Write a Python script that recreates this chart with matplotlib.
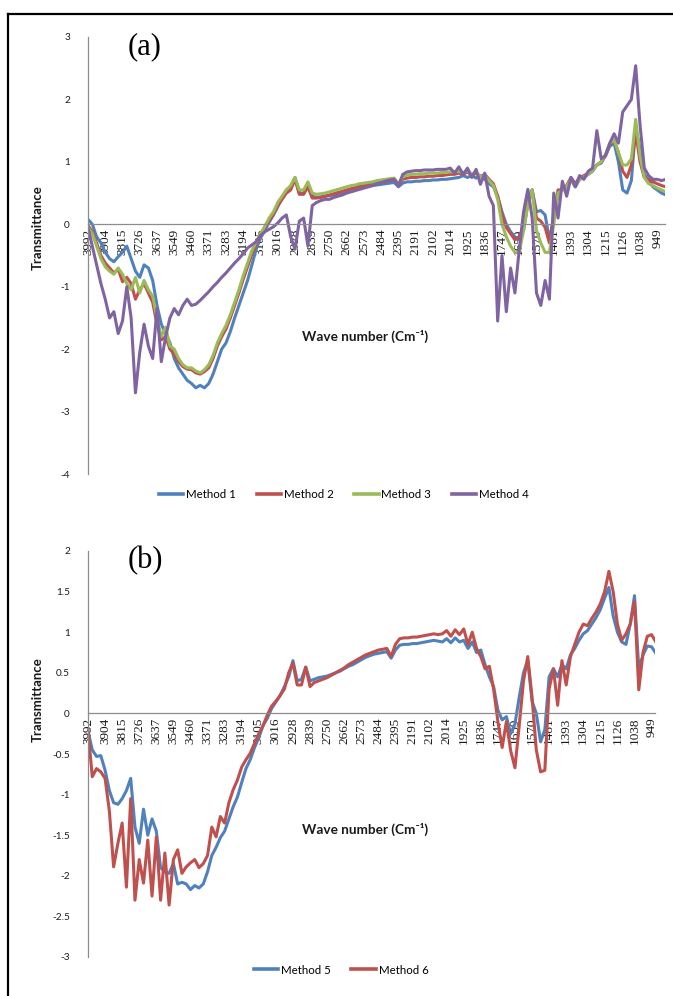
import numpy as np
import matplotlib
matplotlib.use("Agg")
import matplotlib.pyplot as plt
from matplotlib.lines import Line2D

# ---------------- data ----------------
wavenumber_labels = ["3992", "3904", "3815", "3726", "3637", "3549", "3460", "3371",
                     "3283", "3194", "3105", "3016", "2928", "2839", "2750", "2662",
                     "2573", "2484", "2395", "2191", "2102", "2014", "1925", "1836",
                     "1747", "1659", "1570", "1481", "1393", "1304", "1215", "1126",
                     "1038", "949"]
samples_per_label = 4   # values read at quarter steps between category labels

method1 = [0.08, 0.0, -0.2, -0.3, -0.45, -0.55, -0.6, -0.52, -0.45, -0.35, -0.55, -0.75,
           -0.85, -0.65, -0.7, -0.9, -1.3, -1.6, -1.75, -1.9, -2.15, -2.3, -2.4, -2.5,
           -2.55, -2.62, -2.58, -2.62, -2.55, -2.4, -2.2, -2.0, -1.9, -1.72, -1.5, -1.3,
           -1.1, -0.9, -0.65, -0.4, -0.22, -0.1, 0.03, 0.15, 0.28, 0.42, 0.55, 0.6,
           0.75, 0.5, 0.5, 0.62, 0.45, 0.43, 0.44, 0.45, 0.46, 0.47, 0.48, 0.5,
           0.52, 0.54, 0.56, 0.58, 0.6, 0.61, 0.62, 0.63, 0.64, 0.65, 0.66, 0.67,
           0.6, 0.66, 0.68, 0.68, 0.69, 0.69, 0.7, 0.7, 0.71, 0.71, 0.72, 0.72,
           0.73, 0.74, 0.75, 0.78, 0.75, 0.78, 0.74, 0.78, 0.72, 0.65, 0.6, 0.45,
           0.2, 0.0, -0.12, -0.2, -0.25, -0.1, 0.35, 0.55, 0.2, 0.22, 0.15, -0.25,
           0.1, 0.5, 0.55, 0.6, 0.72, 0.6, 0.72, 0.75, 0.8, 0.85, 0.95, 0.98,
           1.1, 1.25, 1.3, 1.0, 0.55, 0.5, 0.7, 1.55, 1.2, 0.8, 0.7, 0.6,
           0.55, 0.5, 0.47]
method2 = [-0.02, -0.12, -0.3, -0.5, -0.62, -0.7, -0.78, -0.72, -0.92, -0.85, -0.95, -1.2,
           -1.05, -0.95, -1.1, -1.25, -1.6, -1.85, -1.8, -2.0, -2.08, -2.2, -2.28, -2.32,
           -2.33, -2.38, -2.4, -2.36, -2.3, -2.15, -1.95, -1.8, -1.68, -1.5, -1.3, -1.1,
           -0.88, -0.68, -0.48, -0.32, -0.18, -0.06, 0.06, 0.16, 0.3, 0.4, 0.5, 0.55,
           0.72, 0.48, 0.48, 0.6, 0.42, 0.42, 0.43, 0.45, 0.47, 0.49, 0.51, 0.53,
           0.55, 0.57, 0.59, 0.61, 0.62, 0.64, 0.65, 0.66, 0.67, 0.68, 0.7, 0.71,
           0.63, 0.72, 0.74, 0.75, 0.75, 0.76, 0.76, 0.77, 0.77, 0.78, 0.78, 0.79,
           0.8, 0.8, 0.82, 0.8, 0.84, 0.78, 0.82, 0.76, 0.8, 0.72, 0.65, 0.45,
           0.15, -0.05, -0.15, -0.25, -0.2, -0.05, 0.35, 0.55, 0.1, 0.05, -0.05, -0.3,
           0.15, 0.55, 0.55, 0.62, 0.75, 0.65, 0.75, 0.78, 0.82, 0.88, 0.95, 1.0,
           1.1, 1.28, 1.35, 1.15, 0.85, 0.75, 0.95, 1.48, 1.0, 0.75, 0.72, 0.68,
           0.65, 0.62, 0.6]
method3 = [-0.05, -0.15, -0.35, -0.55, -0.68, -0.75, -0.8, -0.7, -0.8, -0.95, -1.05, -0.85,
           -1.1, -0.9, -1.05, -1.15, -1.5, -1.8, -1.65, -1.95, -2.0, -2.15, -2.25, -2.3,
           -2.3, -2.35, -2.38, -2.33, -2.25, -2.1, -1.9, -1.75, -1.62, -1.45, -1.25, -1.05,
           -0.82, -0.62, -0.42, -0.28, -0.15, -0.03, 0.1, 0.2, 0.35, 0.45, 0.55, 0.62,
           0.75, 0.55, 0.55, 0.68, 0.5, 0.48, 0.49, 0.5, 0.52, 0.54, 0.56, 0.58,
           0.6, 0.62, 0.63, 0.65, 0.66, 0.67, 0.68, 0.7, 0.71, 0.72, 0.73, 0.74,
           0.65, 0.76, 0.79, 0.8, 0.8, 0.81, 0.81, 0.82, 0.82, 0.82, 0.83, 0.83,
           0.84, 0.84, 0.85, 0.82, 0.86, 0.8, 0.84, 0.76, 0.78, 0.7, 0.62, 0.4,
           0.0, -0.2, -0.35, -0.45, -0.45, -0.1, 0.3, 0.55, -0.1, -0.3, -0.45, -0.45,
           0.0, 0.5, 0.55, 0.6, 0.72, 0.62, 0.72, 0.76, 0.8, 0.86, 0.95, 1.0,
           1.12, 1.3, 1.35, 1.15, 0.95, 0.95, 1.05, 1.68, 1.1, 0.75, 0.65, 0.62,
           0.58, 0.55, 0.52]
method4 = [-0.05, -0.35, -0.65, -0.95, -1.2, -1.5, -1.4, -1.75, -1.55, -1.0, -1.5, -2.7,
           -2.05, -1.6, -1.95, -2.15, -1.35, -2.2, -1.8, -1.5, -1.35, -1.45, -1.3, -1.2,
           -1.3, -1.28, -1.22, -1.15, -1.08, -1.0, -0.93, -0.85, -0.78, -0.7, -0.62, -0.55,
           -0.47, -0.38, -0.33, -0.28, -0.18, -0.12, -0.08, -0.04, 0.02, 0.1, 0.15, -0.2,
           -0.4, 0.05, 0.1, -0.35, 0.3, 0.35, 0.38, 0.4, 0.4, 0.43, 0.45, 0.47,
           0.5, 0.52, 0.54, 0.56, 0.58, 0.6, 0.62, 0.65, 0.67, 0.69, 0.71, 0.72,
           0.62, 0.8, 0.84, 0.85, 0.86, 0.86, 0.87, 0.87, 0.87, 0.88, 0.88, 0.88,
           0.9, 0.82, 0.92, 0.8, 0.9, 0.75, 0.88, 0.64, 0.82, 0.45, 0.3, -1.55,
           -0.5, -1.4, -0.7, -1.1, -0.4, 0.2, 0.56, 0.1, -1.1, -1.3, -0.9, -1.2,
           0.5, 0.1, 0.69, 0.45, 0.75, 0.6, 0.78, 0.72, 0.85, 0.9, 1.5, 1.05,
           1.1, 1.3, 1.45, 1.3, 1.8, 1.9, 2.0, 2.54, 1.6, 0.9, 0.78, 0.72,
           0.72, 0.7, 0.72]

method5 = [-0.22, -0.45, -0.53, -0.52, -0.7, -0.95, -1.1, -1.12, -1.05, -0.95, -0.8, -1.4,
           -1.6, -1.18, -1.5, -1.3, -1.45, -1.9, -1.95, -1.97, -1.85, -2.1, -2.08, -2.1,
           -2.17, -2.12, -2.15, -2.1, -1.95, -1.75, -1.65, -1.53, -1.45, -1.3, -1.15, -1.03,
           -0.85, -0.68, -0.57, -0.42, -0.3, -0.15, -0.06, 0.06, 0.14, 0.22, 0.33, 0.45,
           0.65, 0.4, 0.42, 0.57, 0.4, 0.42, 0.44, 0.45, 0.46, 0.48, 0.5, 0.52,
           0.55, 0.58, 0.6, 0.63, 0.66, 0.69, 0.71, 0.73, 0.74, 0.75, 0.76, 0.68,
           0.78, 0.84, 0.85, 0.85, 0.86, 0.86, 0.87, 0.88, 0.89, 0.9, 0.89, 0.88,
           0.92, 0.87, 0.93, 0.88, 0.9, 0.8, 0.88, 0.75, 0.78, 0.6, 0.45, 0.33,
           0.04, -0.08, -0.04, -0.25, -0.13, 0.2, 0.5, 0.65, 0.15, 0.0, -0.35, -0.2,
           0.45, 0.55, 0.45, 0.6, 0.55, 0.72, 0.8, 0.9, 0.98, 1.02, 1.1, 1.18,
           1.28, 1.42, 1.55, 1.2, 1.0, 0.88, 0.85, 1.1, 1.45, 0.55, 0.72, 0.83,
           0.82, 0.74]
method6 = [-0.2, -0.78, -0.68, -0.72, -0.8, -1.2, -1.89, -1.6, -1.35, -2.14, -1.05, -2.3,
           -1.8, -2.09, -1.56, -2.25, -1.52, -2.3, -1.72, -2.36, -1.8, -1.68, -1.97, -1.89,
           -1.84, -1.8, -1.9, -1.85, -1.75, -1.4, -1.52, -1.27, -1.35, -1.1, -0.94, -0.82,
           -0.66, -0.57, -0.49, -0.37, -0.25, -0.15, -0.02, 0.09, 0.15, 0.22, 0.3, 0.5,
           0.62, 0.35, 0.35, 0.57, 0.33, 0.38, 0.4, 0.42, 0.44, 0.47, 0.5, 0.53,
           0.56, 0.6, 0.63, 0.66, 0.69, 0.72, 0.74, 0.76, 0.78, 0.79, 0.8, 0.7,
           0.85, 0.92, 0.93, 0.93, 0.94, 0.94, 0.95, 0.96, 0.97, 0.98, 0.97, 0.98,
           1.02, 0.95, 1.03, 0.97, 1.04, 0.85, 1.0, 0.8, 0.7, 0.55, 0.58, 0.3,
           -0.1, -0.42, -0.1, -0.46, -0.67, -0.15, 0.4, 0.7, 0.2, -0.45, -0.72, -0.7,
           0.3, 0.55, 0.1, 0.65, 0.35, 0.7, 0.85, 1.0, 1.1, 1.08, 1.17, 1.25,
           1.35, 1.5, 1.75, 1.5, 1.1, 0.9, 0.98, 1.1, 1.38, 0.29, 0.75, 0.95,
           0.97, 0.88]

top_series = [("Method 1", method1), ("Method 2", method2),
              ("Method 3", method3), ("Method 4", method4)]
bottom_series = [("Method 5", method5), ("Method 6", method6)]

# ---------------- style ----------------
colors = {"Method 1": "#4F81BD", "Method 2": "#C0504D", "Method 3": "#9BBB59",
          "Method 4": "#8064A2", "Method 5": "#4F81BD", "Method 6": "#C0504D"}
axis_gray = "#8C8C8C"
sans = ["Lato", "DejaVu Sans"]
serif = ["Liberation Serif", "DejaVu Serif"]
W, H = 673, 996

fig = plt.figure(figsize=(W / 100, H / 100), dpi=100)


def px_rect(x0, y_top, x1, y_bot):
    return [x0 / W, 1 - y_bot / H, (x1 - x0) / W, (y_bot - y_top) / H]


def make_panel(rect, series, ylim, yticks, xmax):
    ax = fig.add_axes(rect)
    for name, vals in series:
        x = np.arange(len(vals)) / samples_per_label
        ax.plot(x, vals, color=colors[name], lw=2.2, solid_joinstyle="round", label=name)
    ax.set_xlim(0, xmax)
    ax.set_ylim(*ylim)
    for s in ("top", "right"):
        ax.spines[s].set_visible(False)
    ax.spines["left"].set_color(axis_gray)
    ax.spines["left"].set_linewidth(0.9)
    ax.spines["bottom"].set_position(("data", 0))
    ax.spines["bottom"].set_color(axis_gray)
    ax.spines["bottom"].set_linewidth(0.9)
    ax.set_xticks(range(len(wavenumber_labels)))
    ax.set_xticklabels(wavenumber_labels, rotation=90, family=serif, fontsize=9.5,
                       color="#1a1a1a")
    ax.tick_params(axis="x", length=0, pad=3)
    ax.set_yticks(yticks)
    ax.set_yticklabels([f"{v:g}" for v in yticks], family=sans, fontsize=7.2,
                       color="#1a1a1a")
    ax.tick_params(axis="y", length=0, pad=13)
    ax.set_facecolor("none")
    return ax


ax1 = make_panel(px_rect(88, 37, 665, 474), top_series, (-4, 3),
                 [3, 2, 1, 0, -1, -2, -3, -4], 33.45)
ax2 = make_panel(px_rect(88, 551, 655, 957), bottom_series, (-3, 2),
                 [2, 1.5, 1, 0.5, 0, -0.5, -1, -1.5, -2, -2.5, -3], 33.2)

# axis titles
for yc in (228, 700):
    fig.text(38 / W, 1 - yc / H, "Transmittance", rotation=90, ha="center", va="center",
             family=sans, fontweight="bold", fontsize=9.5, color="#1a1a1a")
for yc in (336, 829):
    fig.text(365 / W, 1 - yc / H, "Wave number (Cm\u207b\u00b9)", ha="center", va="center",
             family=sans, fontweight="bold", fontsize=9.8, color="#1a1a1a")

# panel letters
fig.text(128 / W, 1 - 47 / H, "(a)", ha="left", va="center", family=serif, fontsize=22)
fig.text(128 / W, 1 - 561 / H, "(b)", ha="left", va="center", family=serif, fontsize=22)


def legend(names, xc, yc):
    handles = [Line2D([], [], color=colors[n], lw=2.6) for n in names]
    fig.legend(handles, names, loc="center", bbox_to_anchor=(xc / W, 1 - yc / H),
               ncol=len(names), frameon=False, prop={"family": sans, "size": 8.3},
               handlelength=2.1, handletextpad=0.25, columnspacing=1.8)


legend([n for n, _ in top_series], 344, 495)
legend([n for n, _ in bottom_series], 341, 970)

# frame of the original figure (top and left edges visible)
fig.add_artist(Line2D([8 / W, 8 / W], [0, 1 - 14 / H], color="black", lw=1.6,
                      transform=fig.transFigure))
fig.add_artist(Line2D([8 / W, 1], [1 - 14 / H, 1 - 14 / H], color="black", lw=1.6,
                      transform=fig.transFigure))

fig.savefig("out.png", dpi=100, facecolor="white")
